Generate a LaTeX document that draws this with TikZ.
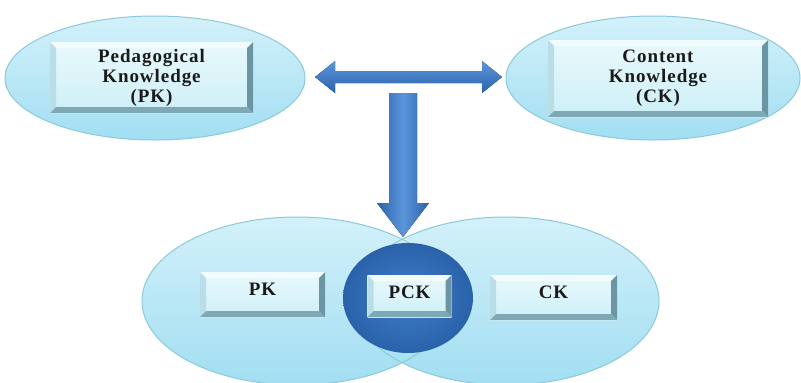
\documentclass[tikz,border=0pt]{standalone}
\usepackage{fontspec}
\setmainfont{Liberation Serif}[LetterSpace=5]
\usetikzlibrary{shapes.geometric}

\definecolor{ellTop}{HTML}{D3F1FA}
\definecolor{ellBot}{HTML}{A2DEF2}
\definecolor{ellLine}{HTML}{8CCADA}
\definecolor{faceTop}{HTML}{E9F9FC}
\definecolor{faceBot}{HTML}{CDEFF8}
\definecolor{bevTop}{HTML}{F2FBFD}
\definecolor{bevLeft}{HTML}{B9DEE7}
\definecolor{bevRight}{HTML}{6B95A3}
\definecolor{bevBot}{HTML}{7FA8B5}
\definecolor{arrDark}{HTML}{2C63AC}
\definecolor{arrLight}{HTML}{5B95DA}
\definecolor{coreOut}{HTML}{2A62AA}
\definecolor{coreIn}{HTML}{3F7ECA}
\definecolor{txt}{HTML}{1A1A1A}

\newcommand{\bw}{6pt}

\tikzset{
  bubble/.style={ellipse, inner sep=0pt, top color=ellTop, bottom color=ellBot},
  rim/.style={ellipse, inner sep=0pt, draw=ellLine, line width=1pt},
  bevel/.style={rectangle, inner sep=0pt, top color=faceTop, bottom color=faceBot,
    path picture={
      \coordinate (bnw) at (path picture bounding box.north west);
      \coordinate (bne) at (path picture bounding box.north east);
      \coordinate (bsw) at (path picture bounding box.south west);
      \coordinate (bse) at (path picture bounding box.south east);
      \fill[bevTop] (bnw) -- (bne) -- ([shift={(-\bw,-\bw)}]bne) -- ([shift={(\bw,-\bw)}]bnw) -- cycle;
      \fill[bevLeft] (bnw) -- (bsw) -- ([shift={(\bw,\bw)}]bsw) -- ([shift={(\bw,-\bw)}]bnw) -- cycle;
      \fill[bevRight] (bne) -- (bse) -- ([shift={(-\bw,\bw)}]bse) -- ([shift={(-\bw,-\bw)}]bne) -- cycle;
      \fill[bevBot] (bsw) -- (bse) -- ([shift={(-\bw,\bw)}]bse) -- ([shift={(\bw,\bw)}]bsw) -- cycle;
    }},
  lbl/.style={font=\bfseries\fontsize{19}{20}\selectfont, align=center, text=txt, inner sep=0pt},
  blockarrow/.style={draw=none}
}

\begin{document}
\begin{tikzpicture}[x=1pt, y=-1pt]
  \fill[white] (0,0) rectangle (801,383);
  \useasboundingbox (0,0) rectangle (801,383);

  % upper pair of ellipses
  \node[bubble, minimum width=300, minimum height=124] (pkell) at (155,78) {};
  \node[rim, minimum width=300, minimum height=124] (pkrim) at (pkell.center) {};
  \node[bubble, minimum width=294, minimum height=124] (ckell) at (653,78) {};
  \node[rim, minimum width=294, minimum height=124] (ckrim) at (ckell.center) {};

  \node[bevel, minimum width=203, minimum height=71] (pkbox) at (151.5,77.5) {};
  \node[lbl] (pktitle) at (pkbox.center) {Pedagogical\\Knowledge\\(PK)};
  \node[bevel, minimum width=220, minimum height=77] (ckbox) at (658,78.5) {};
  \node[lbl] (cktitle) at (ckbox.center) {Content\\Knowledge\\(CK)};

  % lower overlapping ellipses
  \node[bubble, minimum width=310, minimum height=168] (lowL) at (297,301) {};
  \node[bubble, minimum width=306, minimum height=168] (lowR) at (506,301) {};
  \node[rim, minimum width=310, minimum height=168] (lowLrim) at (lowL.center) {};
  \node[rim, minimum width=306, minimum height=168] (lowRrim) at (lowR.center) {};

  % central intersection disc
  \node[ellipse, inner sep=0pt, minimum width=130, minimum height=110,
        inner color=coreIn, outer color=coreOut] (core) at (408,298) {};

  \node[bevel, minimum width=125, minimum height=45] (pkb) at (262.5,294.5) {};
  \node[lbl] (pkt) at ([yshift=5pt]pkb.center) {PK};
  \node[bevel, minimum width=84, minimum height=42] (pckb) at (409.5,296) {};
  \node[lbl] (pckt) at ([yshift=4pt]pckb.center) {PCK};
  \node[bevel, minimum width=127, minimum height=45] (ckb) at (553.5,297.5) {};
  \node[lbl] (ckt) at ([yshift=5pt]ckb.center) {CK};

  % arrows
  \coordinate (hl) at (315,77);
  \coordinate (hr) at (502,77);
  \coordinate (vtop) at (403,93);
  \coordinate (vtip) at (403,237);
  \fill[blockarrow, top color=arrLight, bottom color=arrDark]
    (hl) -- ++(20,-16) -- ++(0,10) -- (482,71) -- (482,61) -- (hr)
    -- (482,93) -- (482,83) -- (335,83) -- (335,93) -- cycle;
  \fill[blockarrow, left color=arrDark, right color=arrDark, middle color=arrLight]
    ([xshift=-14pt]vtop) -- ([xshift=14pt]vtop) -- (417,203) -- (429,203)
    -- (vtip) -- (377,203) -- (389,203) -- cycle;
\end{tikzpicture}
\end{document}
